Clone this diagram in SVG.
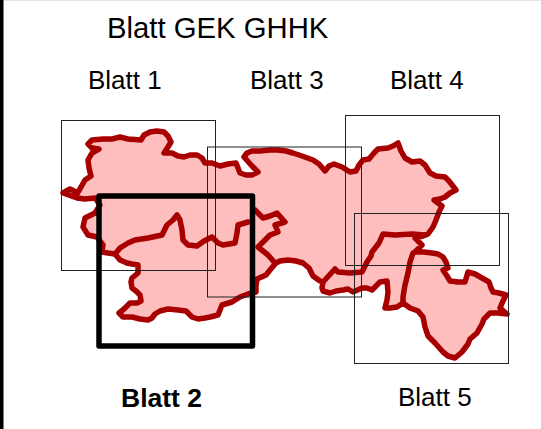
<svg xmlns="http://www.w3.org/2000/svg" width="541" height="429" viewBox="0 0 541 429">
<style>
text{font-family:"Liberation Sans",Arial,sans-serif;font-size:26px;fill:#000}
.b{fill:none;stroke:#a80000;stroke-width:5.500;stroke-linejoin:round;stroke-linecap:round}
.f{fill:#ffbebe}
.r{fill:none;stroke:#222;stroke-width:1}
</style>
<defs>
<path id="outline" d="M63 193L70 189L74 191L77 194L81 187L85 180L91 176L89 168L88 160L92 153L99 149L92 148L88 144L92 140L103 139L112 139L120 137L128 139L141 140L144 135L150 132L157 131L164 132L168 136L171 142L168 147L164 153L172 153L178 156L184 157L190 155L197 155L202 158L205 163L212 163L220 166L228 164L236 163L238 168L240 173L246 175L252 175L258 172L252 166L244 157L247 153L252 151L260 151L270 150L278 150L286 151L293 153L302 156L313 160L319 164L325 171L329 166L334 164L342 167L350 172L356 171L359 165L363 160L369 159L374 153L378 149L388 148L393 146L398 143L401 151L405 158L412 162L420 161L425 165L430 173L436 176L445 177L449 181L456 190L450 193L445 197L440 199L434 200L442 206L439 212L436 220L433 227L428 234L423 236L415 238L422 245L415 252L424 252L432 253L438 254L443 257L446 262L448 268L443 270L447 276L450 281L458 282L465 282L468 272L475 274L482 278L489 282L491 288L493 292L499 293L506 295L503 301L500 308L507 314L498 313L490 313L484 319L482 324L477 333L470 339L468 344L462 352L455 358L448 356L443 352L435 343L428 336L425 327L423 317L418 311L410 308L403 303L397 307L390 308L385 308L387 300L388 292L387 281L380 282L376 286L372 290L367 288L362 288L353 292L348 289L343 290L336 291L330 293L323 291L322 288L323 282L320 281L313 276L309 268L303 263L296 261L288 260L280 261L276 263L270 270L266 275L257 279L256 286L256 292L248 294L240 297L232 302L222 305L220 310L218 315L210 317L205 318L198 319L192 317L186 311L178 310L168 309L160 311L155 314L152 318L148 320L140 319L132 317L123 317L119 313L124 309L130 303L137 303L141 301L140 295L136 291L132 288L131 282L132 278L138 273L138 265L132 264L127 263L120 260L115 254L108 253L102 252L103 245L97 237L88 235L83 227L85 218L95 213L100 205L95 198L85 199L77 198Z"/>
</defs>
<rect width="541" height="429" fill="#fff"/>
<rect width="541" height="1" fill="#e4e4e4"/>
<rect width="3.500" height="429" fill="#000"/>
<text x="107" y="38" style="font-size:29.300px">Blatt GEK GHHK</text>
<text x="88" y="89">Blatt 1</text>
<text x="250" y="89">Blatt 3</text>
<text x="390" y="89">Blatt 4</text>
<text x="121" y="407" font-weight="bold" style="font-size:26.500px">Blatt 2</text>
<text x="398" y="406">Blatt 5</text>
<g id="region">
<use href="#outline" class="f"/>
<use href="#outline" class="b"/>
<path class="b" d="M115 254L120 248L128 243L135 240L148 238L162 235L167 225L173 220L177 215L180 220L182 230L183 240L188 245L197 246L204 241L212 237L218 243L223 245L235 243L237 233L238 225L248 222M255 210L263 218L270 216L277 213L285 222L275 225L278 232L270 235L258 247L268 255L275 263"/>
<path class="b" d="M425 235L412 234L395 235L383 234L379 243L372 252L371 256L367 262L364 268L362 272L350 273L338 272L335 269L323 282"/>
<path class="b" d="M413 253L410 262L408 273L405 285L403 297L403 303"/>
</g>
<g id="sheet-1"><rect class="r" x="61.500" y="120.500" width="154" height="150"/></g>
<g id="sheet-3"><rect class="r" x="207.500" y="147" width="154" height="150"/></g>
<g id="sheet-4"><rect class="r" x="345.500" y="115.500" width="154" height="150"/></g>
<g id="sheet-5"><rect class="r" x="354.500" y="213.500" width="154" height="150"/></g>
<g id="sheet-2"><rect x="99" y="196" width="153.500" height="150" fill="none" stroke="#000" stroke-width="5.500" stroke-linejoin="round"/></g>
</svg>
